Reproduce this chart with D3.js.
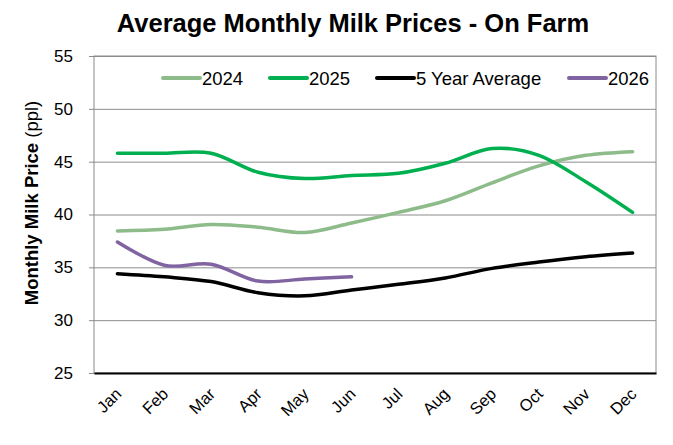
<!DOCTYPE html>
<html>
<head>
<meta charset="utf-8">
<script src="https://cdn.jsdelivr.net/npm/d3@7"></script>
<style>
  body { margin: 0; background: #fff; }
  svg { font-family: Arial, "Liberation Sans", sans-serif; }
</style>
</head>
<body>
<div id="chart"></div>
<script>
// chart values
const months = ["Jan", "Feb", "Mar", "Apr", "May", "Jun", "Jul", "Aug", "Sep", "Oct", "Nov", "Dec"];
const yTicks = [25, 30, 35, 40, 45, 50, 55];
const seriesNames = ["2024", "2025", "5 Year Average", "2026"];
const prices2024 = [38.45, 38.6, 39.05, 38.8, 38.3, 39.2, 40.2, 41.3, 43.0, 44.6, 45.6, 45.95];
const prices2025 = [45.8, 45.8, 45.8, 44.0, 43.4, 43.7, 43.9, 44.85, 46.25, 45.6, 43.1, 40.2];
const prices5yr = [34.4, 34.1, 33.65, 32.6, 32.3, 32.85, 33.4, 34.0, 34.9, 35.5, 36.0, 36.35];
const prices2026 = [37.4, 35.2, 35.3, 33.7, 33.9, 34.1];
const colours = ["#8dbb89", "#00b050", "#000000", "#8064a2"];

const W = 673, H = 445;
const margin = { top: 56, right: 17, bottom: 72, left: 94 };
const width = W - margin.left - margin.right;
const height = H - margin.top - margin.bottom;

const svg = d3.select("#chart").append("svg")
    .attr("width", W)
    .attr("height", H);

const g = svg.append("g")
    .attr("transform", "translate(" + margin.left + "," + margin.top + ")");

const x = d3.scaleBand().domain(months).range([0, width]);
const y = d3.scaleLinear().domain([25, 55]).range([height, 0]);

// gridlines + left ticks
const yAxis = g.append("g")
    .call(d3.axisLeft(y).tickValues(yTicks).tickSize(-width).tickPadding(21).tickFormat(d3.format("d")));
yAxis.select(".domain").remove();
yAxis.selectAll(".tick line").attr("stroke", "#8c8c8c").attr("x1", -5);
yAxis.selectAll(".tick text")
    .attr("fill", "#000")
    .style("font-size", "17px");

// plot border
g.append("rect")
    .attr("width", width)
    .attr("height", height)
    .attr("fill", "none")
    .attr("stroke", "#8c8c8c");

// x axis
const xAxis = g.append("g")
    .attr("transform", "translate(0," + height + ")")
    .call(d3.axisBottom(x).tickSize(0));
xAxis.select(".domain").attr("stroke", "#000").attr("stroke-width", 2);
xAxis.selectAll(".tick text")
    .attr("fill", "#000")
    .style("font-size", "16.5px")
    .attr("text-anchor", "end")
    .attr("x", 0)
    .attr("y", 0)
    .attr("dy", "0.35em")
    .attr("transform", "translate(1,18) rotate(-45)");

// lines
const line = d3.line()
    .x((d, i) => x(months[i]) + x.bandwidth() / 2)
    .y(d => y(d))
    .curve(d3.curveCardinal.tension(0));

const allSeries = [prices2024, prices2025, prices5yr, prices2026];
g.selectAll(".series")
    .data(allSeries)
    .enter().append("path")
    .attr("class", "series")
    .attr("fill", "none")
    .attr("stroke", (d, i) => colours[i])
    .attr("stroke-width", 3.5)
    .attr("stroke-linecap", "round")
    .attr("d", line);

// legend
const legendX = [69, 176, 283, 475];
const legend = g.selectAll(".legend")
    .data(seriesNames)
    .enter().append("g")
    .attr("class", "legend")
    .attr("transform", (d, i) => "translate(" + legendX[i] + "," + 22 + ")");
legend.append("line")
    .attr("x1", 0).attr("x2", 37)
    .attr("stroke", (d, i) => colours[i])
    .attr("stroke-width", 4)
    .attr("stroke-linecap", "round");
legend.append("text")
    .attr("x", 39)
    .attr("dy", "0.36em")
    .style("font-size", "18.5px")
    .text(d => d);

// title
svg.append("text")
    .attr("x", 353)
    .attr("y", 32)
    .attr("text-anchor", "middle")
    .style("font-size", "25.5px")
    .style("font-weight", "bold")
    .text("Average Monthly Milk Prices - On Farm");

// y label
const ylab = svg.append("text")
    .attr("transform", "translate(32,203) rotate(-90)")
    .attr("text-anchor", "middle")
    .attr("dy", "0.35em")
    .style("font-size", "18.5px");
ylab.append("tspan").style("font-weight", "bold").text("Monthly Milk Price ");
ylab.append("tspan").text("(ppl)");
</script>
</body>
</html>
